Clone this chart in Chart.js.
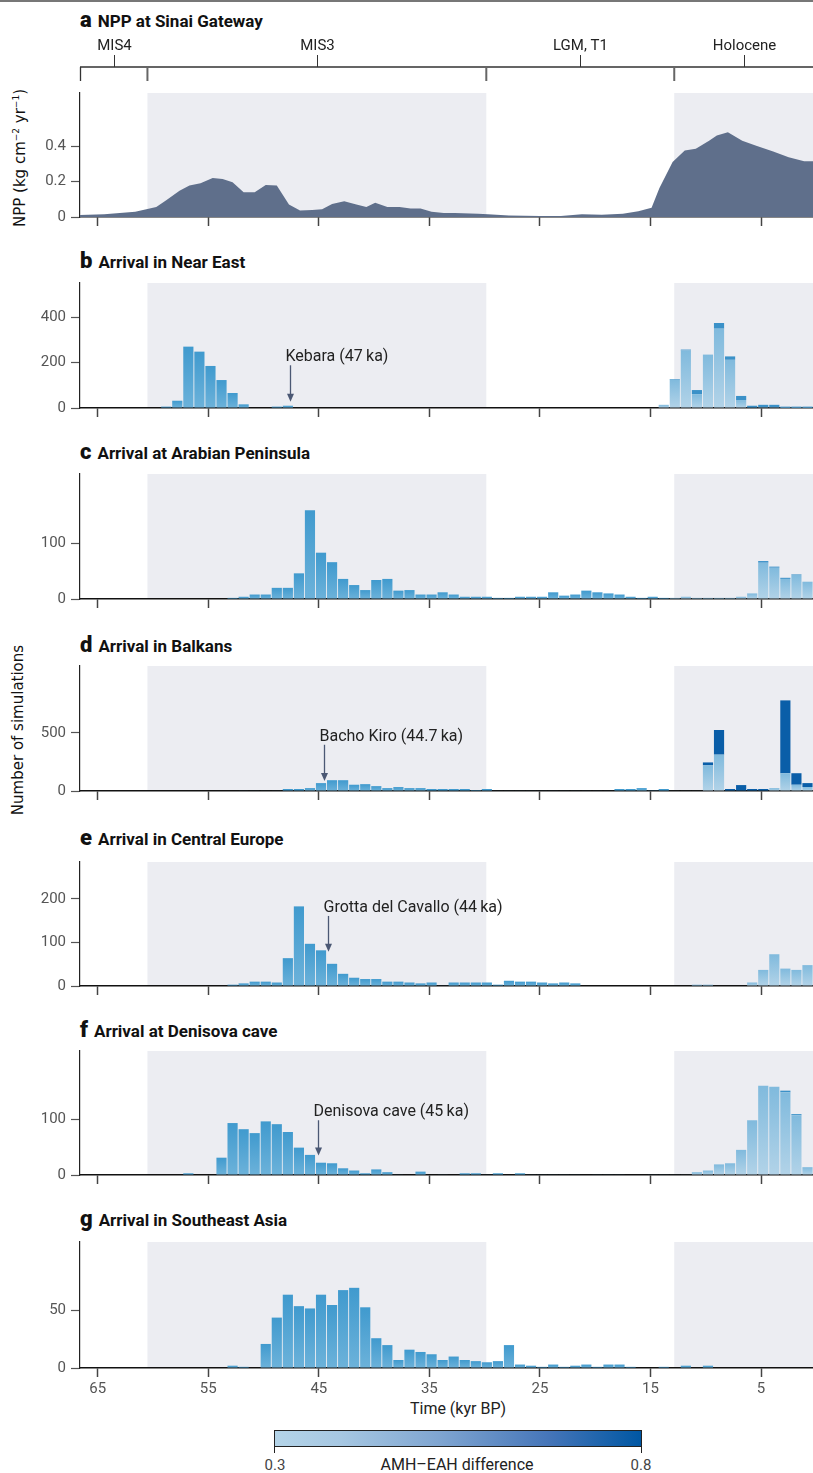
<!DOCTYPE html>
<html>
<head>
<meta charset="utf-8">
<script src="https://cdn.jsdelivr.net/npm/chart.js@4.4.1/dist/chart.umd.min.js"></script>
<style>
html, body { margin: 0; padding: 0; background: #fff; overflow: hidden; }
body { width: 813px; height: 1473px; position: relative; font-family: Roboto, "Noto Sans", sans-serif; color: #111; }
canvas { position: absolute; left: 0; }
.rule { position: absolute; left: 0; top: 0; width: 813px; height: 2px; background: #777; }
.title { position: absolute; left: 80px; font-size: 17px; font-weight: 700; line-height: 20px; white-space: nowrap; }
.title span { font-size: 22px; font-weight: 900; margin-right: 6px; }
.ylab { position: absolute; width: 320px; text-align: center; font-family: "DejaVu Sans", sans-serif; font-size: 15px; line-height: 18px; transform: rotate(-90deg); white-space: nowrap; color: #111; }
.ylab sup { font-size: 9px; }
.txt { position: absolute; white-space: nowrap; transform: translateX(-50%); line-height: 18px; }
.cbar { position: absolute; left: 274px; top: 1430px; width: 366px; height: 15px; border: 1px solid #222;
        background: linear-gradient(to right, #b4d4e8, #a6c7e2 18%, #7fa5d1 45%, #4575b8 75%, #0057a3); }
.ctick { position: absolute; top: 1447px; width: 1px; height: 6px; background: #222; }
</style>
</head>
<body>
<div class="rule"></div>

<div class="title" style="top:10px"><span>a</span>NPP at Sinai Gateway</div>
<div class="title" style="top:251px"><span>b</span>Arrival in Near East</div>
<div class="title" style="top:442px"><span>c</span>Arrival at Arabian Peninsula</div>
<div class="title" style="top:635px"><span>d</span>Arrival in Balkans</div>
<div class="title" style="top:828px"><span>e</span>Arrival in Central Europe</div>
<div class="title" style="top:1020px"><span>f</span>Arrival at Denisova cave</div>
<div class="title" style="top:1209px"><span>g</span>Arrival in Southeast Asia</div>

<div class="ylab" style="left:-142px; top:147px">NPP (kg cm<sup>−2</sup> yr<sup>−1</sup>)</div>
<div class="ylab" style="left:-142px; top:721px">Number of simulations</div>

<div class="txt" style="left:458px; top:1400px; font-size:16px; color:#222">Time (kyr BP)</div>
<div class="cbar"></div>
<div class="ctick" style="left:274px"></div>
<div class="ctick" style="left:641px"></div>
<div class="txt" style="left:275px; top:1456px; font-size:15px; color:#444">0.3</div>
<div class="txt" style="left:457px; top:1456px; font-size:16px; color:#222">AMH–EAH difference</div>
<div class="txt" style="left:641px; top:1456px; font-size:15px; color:#444">0.8</div>

<script>
// time axis (kyr BP), reversed
const X_MIN = 0.3;
const X_MAX = 66.6;
const xTicks = [65, 55, 45, 35, 25, 15, 5];
const shadeSpans = [[60.5, 29.85], [12.85, X_MIN]];
const periodBounds = [X_MAX, 60.5, 29.85, 12.85, X_MIN];
const periodNames = ['MIS4', 'MIS3', 'LGM, T1', 'Holocene'];

// NPP at Sinai Gateway
const nppAge = [66.6, 64.4, 61.6, 60.3, 59.7, 58.8, 57.6, 56.7, 55.7, 54.6,
                53.7, 52.8, 51.8, 50.8, 49.8, 48.8, 47.7, 46.7, 45.6, 44.7,
                43.8, 42.7, 41.6, 40.7, 39.9, 38.8, 37.7, 36.7, 35.8, 34.8,
                33.7, 32.7, 30.6, 29.7, 27.8, 25.0, 23.1, 21.2, 19.4, 17.5,
                16.1, 14.9, 14.2, 13.0, 11.9, 10.9, 9.7, 9.0, 8.0, 6.7,
                5.5, 3.9, 2.5, 1.1, 0.3];
const nppVal = [0.011, 0.015, 0.03, 0.048, 0.056, 0.094, 0.148, 0.178, 0.19, 0.22,
                0.215, 0.196, 0.14, 0.14, 0.18, 0.178, 0.07, 0.037, 0.04, 0.044,
                0.074, 0.089, 0.07, 0.056, 0.08, 0.056, 0.056, 0.048, 0.048, 0.03,
                0.022, 0.022, 0.018, 0.015, 0.009, 0.006, 0.006, 0.015, 0.013, 0.018,
                0.033, 0.052, 0.163, 0.311, 0.376, 0.385, 0.43, 0.46, 0.478, 0.43,
                0.404, 0.37, 0.337, 0.315, 0.315];

// 1 kyr bins, centre ages
const ages = [65.8, 64.8, 63.8, 62.8, 61.8, 60.8, 59.8, 58.8, 57.8, 56.8,
              55.8, 54.8, 53.8, 52.8, 51.8, 50.8, 49.8, 48.8, 47.8, 46.8,
              45.8, 44.8, 43.8, 42.8, 41.8, 40.8, 39.8, 38.8, 37.8, 36.8,
              35.8, 34.8, 33.8, 32.8, 31.8, 30.8, 29.8, 28.8, 27.8, 26.8,
              25.8, 24.8, 23.8, 22.8, 21.8, 20.8, 19.8, 18.8, 17.8, 16.8,
              15.8, 14.8, 13.8, 12.8, 11.8, 10.8, 9.8, 8.8, 7.8, 6.8,
              5.8, 4.8, 3.8, 2.8, 1.8, 0.8];

// b Near East (low difference part, high difference top)
const nearEastLow = [0, 0, 0, 0, 0, 0, 0, 6, 32, 270,
                     248, 185, 123, 66, 16, 0, 0, 6, 10, 0,
                     0, 0, 0, 0, 0, 0, 0, 0, 0, 0,
                     0, 0, 0, 0, 0, 0, 0, 0, 0, 0,
                     0, 0, 0, 0, 0, 0, 0, 0, 0, 0,
                     0, 0, 14, 124, 253, 61, 235, 349, 212, 35,
                     2, 4, 4, 1, 1, 1];
const nearEastHigh = [0, 0, 0, 0, 0, 0, 0, 0, 0, 0,
                      0, 0, 0, 0, 0, 0, 0, 0, 0, 0,
                      0, 0, 0, 0, 0, 0, 0, 0, 0, 0,
                      0, 0, 0, 0, 0, 0, 0, 0, 0, 0,
                      0, 0, 0, 0, 0, 0, 0, 0, 0, 0,
                      0, 0, 0, 3, 4, 18, 0, 25, 15, 18,
                      8, 10, 10, 5, 5, 5];

// c Arabian Peninsula
const arabiaLow = [0, 0, 0, 0, 0, 0, 0, 0, 0, 0,
                   0, 0, 0, 2, 4, 8, 8, 20, 20, 46,
                   159, 83, 66, 36, 25, 16, 34, 36, 15, 16,
                   8, 8, 12, 8, 4, 4, 4, 2, 2, 4,
                   4, 4, 12, 6, 8, 15, 12, 10, 8, 4,
                   2, 4, 2, 2, 4, 2, 2, 2, 2, 4,
                   10, 65, 56, 36, 43, 31];
const arabiaHigh = [0, 0, 0, 0, 0, 0, 0, 0, 0, 0,
                    0, 0, 0, 0, 0, 0, 0, 0, 0, 0,
                    0, 0, 0, 0, 0, 0, 0, 0, 0, 0,
                    0, 0, 0, 0, 0, 0, 0, 0, 0, 0,
                    0, 0, 0, 0, 0, 0, 0, 0, 0, 0,
                    0, 0, 0, 0, 0, 0, 0, 0, 0, 0,
                    0, 3, 2, 2, 1, 0];

// d Balkans
const balkansLow = [0, 0, 0, 0, 0, 0, 0, 0, 0, 0,
                    0, 0, 0, 0, 4, 4, 4, 4, 17, 17,
                    25, 68, 93, 93, 54, 59, 42, 25, 34, 25,
                    25, 17, 17, 17, 17, 8, 17, 4, 4, 4,
                    4, 4, 4, 4, 4, 4, 4, 4, 17, 17,
                    25, 6, 17, 4, 4, 4, 221, 313, 0, 0,
                    0, 0, 25, 153, 54, 34];
const balkansHigh = [0, 0, 0, 0, 0, 0, 0, 0, 0, 0,
                     0, 0, 0, 0, 0, 0, 0, 0, 0, 0,
                     0, 0, 0, 0, 0, 0, 0, 0, 0, 0,
                     0, 0, 0, 0, 0, 0, 0, 0, 0, 0,
                     0, 0, 0, 0, 0, 0, 0, 0, 0, 0,
                     0, 0, 0, 0, 0, 0, 25, 212, 17, 51,
                     17, 17, 0, 627, 99, 34];

// e Central Europe
const europe = [0, 0, 0, 0, 0, 0, 0, 0, 0, 0,
                0, 0, 0, 3, 6, 10, 10, 8, 64, 183,
                97, 82, 51, 28, 19, 16, 16, 10, 10, 8,
                6, 8, 1, 8, 8, 8, 8, 3, 12, 10,
                10, 8, 6, 8, 6, 0, 0, 0, 0, 0,
                0, 0, 0, 0, 0, 3, 3, 0, 0, 0,
                8, 37, 73, 40, 37, 48];

// f Denisova cave
const denisovaLow = [0, 0, 0, 0, 0, 0, 0, 0, 0, 3,
                     0, 0, 31, 93, 82, 75, 96, 91, 77, 49,
                     36, 22, 21, 12, 8, 3, 10, 5, 1, 0,
                     6, 0, 1, 0, 3, 3, 1, 3, 0, 3,
                     1, 1, 1, 1, 1, 0, 1, 1, 1, 0,
                     0, 1, 1, 1, 1, 5, 8, 19, 21, 45,
                     98, 160, 158, 148, 107, 14];
const denisovaHigh = [0, 0, 0, 0, 0, 0, 0, 0, 0, 0,
                      0, 0, 0, 0, 0, 0, 0, 0, 0, 0,
                      0, 0, 0, 0, 0, 0, 0, 0, 0, 0,
                      0, 0, 0, 0, 0, 0, 0, 0, 0, 0,
                      0, 0, 0, 0, 0, 0, 0, 0, 0, 0,
                      0, 0, 0, 0, 0, 0, 0, 0, 0, 0,
                      0, 0, 0, 3, 2, 0];

// g Southeast Asia
const seAsia = [0, 0, 0, 0, 0, 0, 0, 0, 0, 0,
                0, 0, 0, 2, 1, 0, 21, 44, 64, 54,
                52, 64, 55, 68, 70, 53, 26, 20, 7, 16,
                14, 12, 7, 10, 7, 6, 5, 6, 20, 3,
                2, 1, 3, 1, 2, 3, 1, 3, 3, 1,
                0, 0, 1, 0, 2, 0, 2, 0, 0, 0,
                0, 0, 0, 0, 0, 0];

Chart.defaults.font.family = 'Roboto, "Noto Sans", sans-serif';
Chart.defaults.font.size = 15;

const shadePlugin = {
    id: 'shade',
    beforeDraw(chart) {
        const { ctx, chartArea: a, scales: { x } } = chart;
        ctx.save();
        ctx.fillStyle = '#ecedf2';
        shadeSpans.forEach(([from, to]) => {
            const x0 = Math.max(a.left, Math.min(x.getPixelForValue(from), x.getPixelForValue(to)));
            const x1 = Math.min(a.right, Math.max(x.getPixelForValue(from), x.getPixelForValue(to)));
            ctx.fillRect(x0, a.top, x1 - x0, a.bottom - a.top);
        });
        ctx.restore();
    }
};

const notePlugin = {
    id: 'note',
    afterDatasetsDraw(chart, args, o) {
        if (!o || !o.text) return;
        const { ctx, scales: { x, y } } = chart;
        const px = Math.round(x.getPixelForValue(o.age)) + 0.5;
        const y0 = y.getPixelForValue(o.tail);
        const y1 = y.getPixelForValue(o.tip);
        ctx.save();
        ctx.strokeStyle = '#4b5874';
        ctx.fillStyle = '#4b5874';
        ctx.lineWidth = 1.3;
        ctx.beginPath();
        ctx.moveTo(px, y0);
        ctx.lineTo(px, y1 - 6);
        ctx.stroke();
        ctx.beginPath();
        ctx.moveTo(px - 3.5, y1 - 8);
        ctx.lineTo(px + 3.5, y1 - 8);
        ctx.lineTo(px, y1);
        ctx.closePath();
        ctx.fill();
        ctx.fillStyle = '#222';
        ctx.font = '16px Roboto, "Noto Sans", sans-serif';
        ctx.textAlign = 'left';
        ctx.textBaseline = 'alphabetic';
        ctx.fillText(o.text, px - 5, y0 - 4);
        ctx.restore();
    }
};

const bracketPlugin = {
    id: 'bracket',
    afterDraw(chart, args, o) {
        if (!o || !o.show) return;
        const { ctx, chartArea: a, scales: { x } } = chart;
        const lineY = a.top - 26;
        ctx.save();
        ctx.strokeStyle = '#333';
        ctx.lineWidth = 1.3;
        ctx.beginPath();
        ctx.moveTo(a.left, lineY);
        ctx.lineTo(a.right, lineY);
        ctx.moveTo(a.left + 0.5, lineY);
        ctx.lineTo(a.left + 0.5, lineY + 14);
        ctx.stroke();
        ctx.strokeStyle = '#666';
        ctx.lineWidth = 2;
        periodBounds.slice(1, -1).forEach(b => {
            const px = x.getPixelForValue(b);
            ctx.beginPath();
            ctx.moveTo(px, lineY - 1);
            ctx.lineTo(px, lineY + 14);
            ctx.stroke();
        });
        ctx.strokeStyle = '#333';
        ctx.lineWidth = 1;
        ctx.fillStyle = '#222';
        ctx.font = '15px Roboto, "Noto Sans", sans-serif';
        ctx.textAlign = 'center';
        ctx.textBaseline = 'middle';
        periodNames.forEach((n, i) => {
            const px = Math.round(x.getPixelForValue((periodBounds[i] + periodBounds[i + 1]) / 2)) + 0.5;
            ctx.beginPath();
            ctx.moveTo(px, lineY - 12);
            ctx.lineTo(px, lineY);
            ctx.stroke();
            ctx.fillText(n, px, lineY - 21);
        });
        ctx.restore();
    }
};

Chart.register(shadePlugin, notePlugin, bracketPlugin);

function barFill(lightFrom) {
    return c => {
        const light = ages[c.dataIndex] < lightFrom;
        const top = light ? '#80badd' : '#409ace';
        const bottom = light ? '#b2d3e8' : '#6cb2da';
        const y = c.chart.scales.y;
        const v = c.raw && c.raw.y;
        if (!y || !v) return top;
        const y0 = y.getPixelForValue(0);
        const y1 = y.getPixelForValue(v);
        if (!(y0 - y1 > 2)) return top;
        const g = c.chart.ctx.createLinearGradient(0, y0, 0, y1);
        g.addColorStop(0, bottom);
        g.addColorStop(1, top);
        return g;
    };
}

function axes(p) {
    return {
        x: {
            type: 'linear', reverse: true, min: X_MIN, max: X_MAX, stacked: true, offset: false,
            afterBuildTicks: s => { s.ticks = xTicks.map(v => ({ value: v })); },
            afterFit: s => { s.height = p.axisH; },
            grid: { display: true, offset: false, drawOnChartArea: false, drawTicks: true, tickLength: 9, tickWidth: 1.5, tickColor: '#444' },
            border: { display: true, color: '#111', width: 1.5 },
            ticks: { display: !!p.xLabels, padding: 3, color: '#555', maxRotation: 0, autoSkip: false, callback: v => String(v) }
        },
        y: {
            min: 0, max: p.yMax, stacked: true,
            afterBuildTicks: s => { s.ticks = p.yTicks.map(v => ({ value: v })); },
            afterFit: s => { s.width = 80; },
            grid: { display: true, drawOnChartArea: false, tickLength: 9, tickWidth: 1.2, tickColor: '#555' },
            border: { display: true, color: '#222', width: 1.2 },
            ticks: { padding: 5, color: '#555', callback: v => String(v) }
        }
    };
}

function makeCanvas(p) {
    const cv = document.createElement('canvas');
    cv.width = 813;
    cv.height = p.padTop + (p.base - p.top) + p.axisH;
    cv.style.top = (p.top - p.padTop) + 'px';
    document.body.appendChild(cv);
    return cv.getContext('2d');
}

function barPanel(p) {
    const datasets = [{
        data: ages.map((a, i) => ({ x: a, y: p.low[i] })),
        backgroundColor: barFill(p.lightFrom),
        borderWidth: 0, barPercentage: 0.92, categoryPercentage: 1, stack: 's'
    }];
    if (p.high) {
        datasets.push({
            data: ages.map((a, i) => ({ x: a, y: p.high[i] })),
            backgroundColor: p.highColor,
            borderWidth: 0, barPercentage: 0.92, categoryPercentage: 1, stack: 's'
        });
    }
    new Chart(makeCanvas(p), {
        type: 'bar',
        data: { datasets },
        options: {
            responsive: false, animation: false, devicePixelRatio: 1,
            layout: { padding: { top: p.padTop, left: 0, right: 0, bottom: 0 } },
            plugins: { legend: { display: false }, tooltip: { enabled: false }, note: p.note || {} },
            scales: axes(p)
        }
    });
}

// a NPP
const panelA = { top: 93, base: 219, padTop: 58, axisH: 12, yMax: 0.7, yTicks: [0, 0.2, 0.4] };
new Chart(makeCanvas(panelA), {
    type: 'line',
    data: {
        datasets: [{
            data: nppAge.map((a, i) => ({ x: a, y: nppVal[i] })),
            fill: 'origin', backgroundColor: '#5f6f8b', borderWidth: 0, pointRadius: 0, tension: 0
        }]
    },
    options: {
        responsive: false, animation: false, devicePixelRatio: 1,
        layout: { padding: { top: panelA.padTop, left: 0, right: 0, bottom: 0 } },
        plugins: { legend: { display: false }, tooltip: { enabled: false }, bracket: { show: true } },
        scales: axes(panelA)
    }
});

const PAD = 14;
barPanel({ top: 283, base: 410, padTop: PAD, axisH: 12, yMax: 550, yTicks: [0, 200, 400],
           low: nearEastLow, high: nearEastHigh, highColor: '#3b91c8', lightFrom: 14.5,
           note: { age: 47.6, tail: 188, tip: 27, text: 'Kebara (47\u2009ka)' } });
barPanel({ top: 474, base: 601, padTop: PAD, axisH: 12, yMax: 224, yTicks: [0, 100],
           low: arabiaLow, high: arabiaHigh, highColor: '#3b91c8', lightFrom: 13 });
barPanel({ top: 666, base: 793, padTop: PAD, axisH: 12, yMax: 1076, yTicks: [0, 500],
           low: balkansLow, high: balkansHigh, highColor: '#0a5ea8', lightFrom: 13,
           note: { age: 44.55, tail: 398, tip: 87, text: 'Bacho Kiro (44.7\u2009ka)' } });
barPanel({ top: 862, base: 988, padTop: PAD, axisH: 12, yMax: 285, yTicks: [0, 100, 200],
           low: europe, lightFrom: 13,
           note: { age: 44.2, tail: 161, tip: 79, text: 'Grotta del Cavallo (44\u2009ka)' } });
barPanel({ top: 1051, base: 1177, padTop: PAD, axisH: 12, yMax: 222, yTicks: [0, 100],
           low: denisovaLow, high: denisovaHigh, highColor: '#3b91c8', lightFrom: 13,
           note: { age: 45.1, tail: 98, tip: 35, text: 'Denisova cave (45\u2009ka)' } });
barPanel({ top: 1242, base: 1368, padTop: PAD, axisH: 32, yMax: 110, yTicks: [0, 50],
           low: seAsia, lightFrom: -1, xLabels: true });
</script>
</body>
</html>
